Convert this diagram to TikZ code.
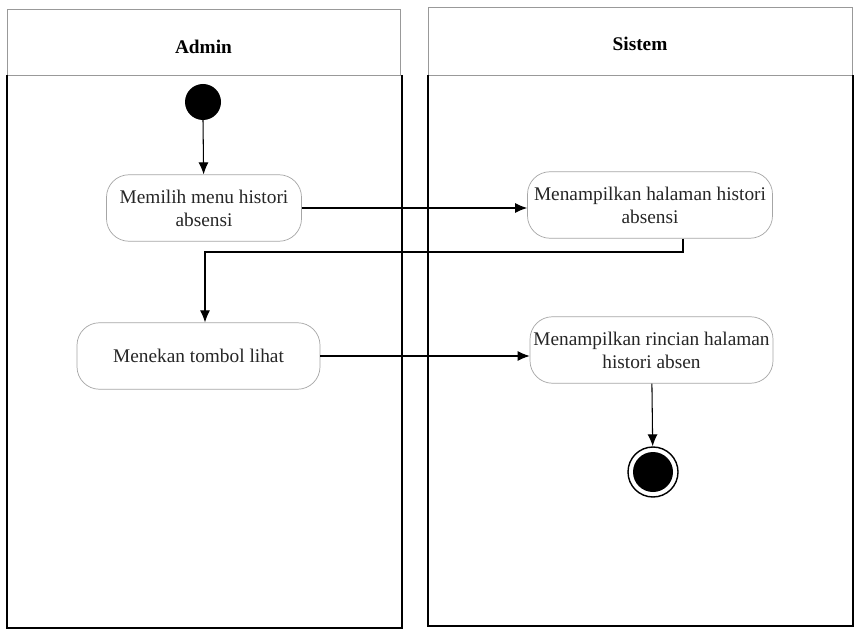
\documentclass[tikz,border=0pt]{standalone}
\usepackage{fontspec}
\setmainfont{Liberation Serif}
\usetikzlibrary{arrows.meta,positioning}

\tikzset{
    aksi/.style={draw=black!35, rounded corners=0.45cm, align=center, font=\fontsize{11}{13}\selectfont, text=black!85, minimum height=1.33cm, inner sep=1pt},
    alur/.style={-{Latex[length=2.4mm,width=2mm]}, line width=0.6pt},
    kepala/.style={draw=black!40, line width=0.5pt},
    badan/.style={line width=1.4pt}
}

\begin{document}
\begin{tikzpicture}
    \useasboundingbox (0,0) rectangle (17.12,-12.62);
    \fill[white] (0,0) rectangle (17.12,-12.62);
    \draw[kepala] (0.14,-0.18) rectangle (8.0,-1.5);
    \draw[kepala] (8.56,-0.14) rectangle (17.04,-1.5);
    \draw[badan] (0.14,-1.5) -- (0.14,-12.56) -- (8.04,-12.56) -- (8.04,-1.5);
    \draw[badan] (8.56,-1.5) -- (8.56,-12.52) -- (17.06,-12.52) -- (17.06,-1.5);
    \node[font=\fontsize{11}{13}\selectfont\bfseries] (admin) at (4.07,-0.94) {Admin};
    \node[font=\fontsize{11}{13}\selectfont\bfseries] (sistem) at (12.8,-0.88) {Sistem};
    \fill (4.06,-2.04) circle (0.36) coordinate (mulai);
    \node[aksi, minimum width=3.9cm] (pilih) at (4.08,-4.16) {Memilih menu histori\\absensi};
    \node[aksi, minimum width=4.9cm] (hal) at (13.0,-4.1) {Menampilkan halaman histori\\absensi};
    \node[aksi, minimum width=4.86cm] (lihat) at (3.97,-7.12) {Menekan tombol lihat};
    \node[aksi, minimum width=4.86cm] (rinci) at (13.03,-7.0) {Menampilkan rincian halaman\\histori absen};
    \node[circle, draw, line width=0.8pt, minimum size=1.0cm, inner sep=0pt] (selesai) at (13.06,-9.44) {};
    \fill (selesai) circle (0.4);
    \draw[alur] (4.06,-2.4) -- (pilih);
    \draw[alur] (pilih) -- (pilih -| hal.west);
    \coordinate (belok) at (13.66,-5.04);
    \draw[alur] (belok |- hal.south) -- (belok) -| ([xshift=0.13cm]lihat.north);
    \draw[alur] (lihat.east) -- (lihat.east -| rinci.west);
    \draw[alur] (rinci) -- (selesai);
\end{tikzpicture}
\end{document}
